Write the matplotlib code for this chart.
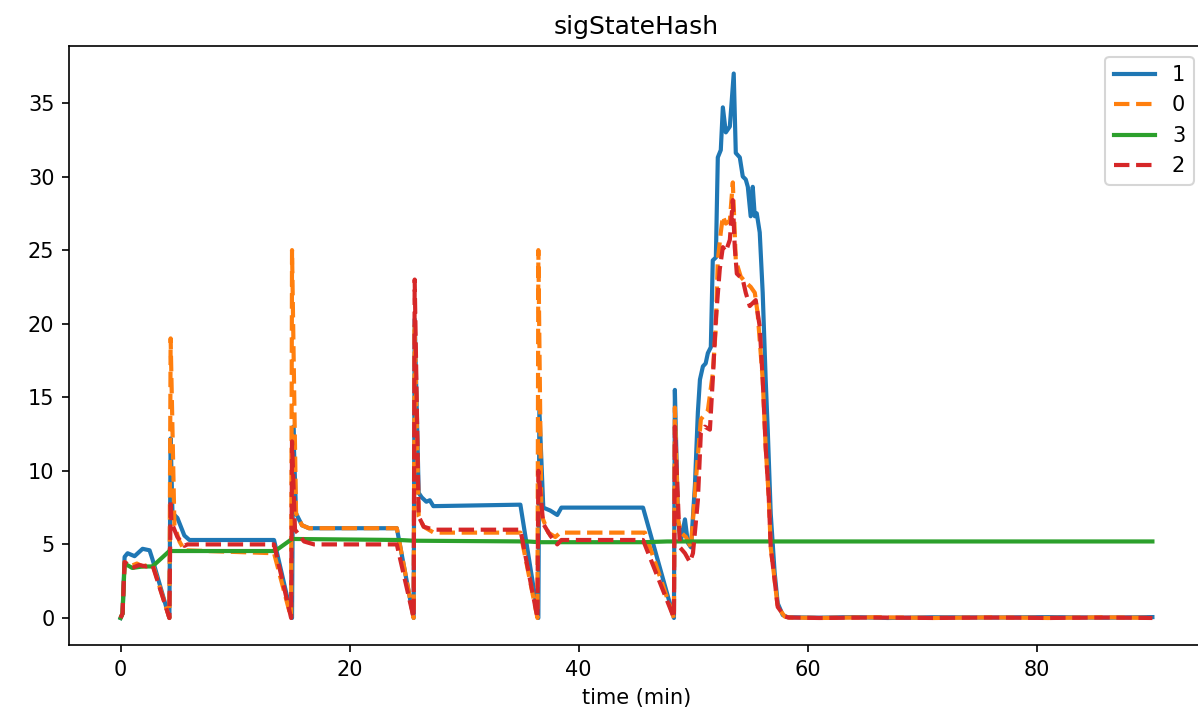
import matplotlib
matplotlib.use("Agg")
import matplotlib.pyplot as plt

# ---- data (time in minutes, values) ----
t_1 = [0, 0.17, 0.35, 0.61, 1.22, 1.92, 2.53, 2.78, 4.26, 4.37, 4.53, 4.70, 4.96, 5.57, 6.01,
       13.40, 14.97, 15.08, 15.32, 15.84, 16.45, 24.12, 25.59, 25.68, 26.03, 26.29, 26.70, 27.00,
       27.31, 34.91, 36.48, 36.57, 36.91, 37.52, 38.13, 38.49, 45.62, 48.32, 48.40, 48.67, 48.93,
       49.28, 49.54, 49.81, 50.15, 50.41, 50.59, 50.85, 51.09, 51.28, 51.54, 51.71, 51.98, 52.15,
       52.41, 52.59, 52.85, 53.20, 53.54, 53.72, 54.07, 54.33, 54.59, 54.77, 55.02, 55.20, 55.38,
       55.55, 55.81, 56.07, 56.33, 56.51, 56.77, 57.11, 57.38, 57.82, 58.25, 61, 64, 67, 71, 76,
       81, 86, 90.1]
v_1 = [0, 0.3, 4.15, 4.4, 4.2, 4.7, 4.6, 4.0, 0, 12.2, 7.1, 7.0, 6.8, 5.6, 5.3,
       5.3, 0, 13.0, 7.1, 6.3, 6.1, 6.1, 0, 20.3, 8.5, 8.2, 7.9, 8.0,
       7.6, 7.7, 0, 14.1, 7.5, 7.3, 7.0, 7.5, 7.5, 0, 15.5, 6.7, 5.3,
       6.7, 5.1, 4.8, 9.0, 14.0, 16.2, 17.1, 17.3, 18.0, 18.4, 24.3, 24.5, 31.3,
       31.8, 34.7, 33.0, 33.4, 37.0, 31.6, 31.3, 30.0, 29.8, 29.3, 27.3, 29.3, 27.3,
       27.5, 26.2, 22.1, 16.2, 12.8, 7.1, 3.1, 1.0, 0.2, 0.05, 0.02, 0.06, 0.0, 0.05, 0.03,
       0.06, 0.02, 0.06]

t_0 = [0, 0.17, 0.35, 0.81, 1.42, 1.93, 2.78, 4.26, 4.37, 4.70, 5.14, 5.57, 13.40, 14.89, 14.97,
       15.32, 15.84, 16.45, 24.12, 25.59, 25.68, 26.03, 26.47, 27.34, 34.91, 36.40, 36.48, 36.74,
       37.35, 37.96, 38.40, 45.79, 48.32, 48.40, 48.67, 48.93, 49.37, 49.81, 50.24, 50.67, 51.28,
       51.71, 51.98, 52.15, 52.41, 52.59, 52.85, 53.20, 53.46, 53.72, 54.15, 54.59, 55.02, 55.38,
       55.63, 56.07, 56.33, 56.60, 56.77, 57.11, 57.38, 57.99, 58.37, 61, 66, 71, 76, 81, 86, 90.1]
v_0 = [0, 0.3, 3.8, 3.5, 3.7, 3.5, 3.7, 0, 19.0, 6.3, 5.2, 4.6, 4.4, 0, 25.0,
       7.1, 6.3, 6.1, 6.1, 0, 20.0, 6.9, 6.2, 5.8, 5.8, 0, 25.0, 7.0,
       5.8, 5.5, 5.8, 5.8, 0, 14.3, 6.7, 5.8, 5.5, 4.8, 9.4, 13.5, 14.1,
       16.6, 19.8, 24.3, 26.2, 27.3, 26.8, 27.0, 29.6, 24.3, 23.2, 22.8, 22.5, 22.1,
       20.7, 16.2, 11.6, 8.2, 4.8, 2.6, 0.75, 0.1, 0.03, 0.0, 0.05, 0.0, 0.04, 0.0, 0.05, 0.0]

t_3 = [0, 0.17, 0.35, 1.02, 1.93, 2.78, 4.26, 13.49, 14.97, 24.36, 25.58, 35.53, 36.55, 45.68,
       47.71, 90.1]
v_3 = [0, 0.3, 3.7, 3.4, 3.5, 3.5, 4.55, 4.55, 5.37, 5.3, 5.25, 5.2, 5.15, 5.15, 5.2, 5.2]

t_2 = [0, 0.17, 0.35, 1.02, 1.62, 2.23, 2.78, 4.26, 4.37, 4.44, 4.96, 5.57, 5.84, 13.40, 14.89,
       14.97, 15.23, 16.02, 16.89, 24.12, 25.59, 25.68, 26.03, 26.47, 27.34, 34.91, 36.40, 36.48,
       36.91, 37.52, 38.13, 38.49, 45.62, 48.32, 48.40, 48.84, 49.28, 49.71, 49.98, 50.41, 50.67,
       51.02, 51.46, 51.71, 51.98, 52.32, 52.59, 52.85, 53.20, 53.46, 53.63, 53.81, 54.33, 54.59,
       54.94, 55.46, 55.81, 56.07, 56.33, 56.60, 56.77, 57.11, 57.38, 57.99, 58.37, 61, 66, 71,
       76, 81, 86, 90.1]
v_2 = [0, 0.3, 3.8, 3.4, 3.6, 3.5, 3.6, 0, 8.0, 6.5, 5.5, 4.9, 5.0, 5.0, 0,
       12.0, 6.0, 5.2, 5.0, 5.0, 0, 23.0, 6.9, 6.2, 6.0, 6.0, 0, 10.0,
       6.4, 5.6, 5.0, 5.3, 5.3, 0, 13.0, 4.8, 4.4, 3.8, 4.4, 8.0, 12.6,
       13.0, 12.8, 16.2, 20.3, 23.7, 25.2, 24.9, 25.7, 28.4, 25.2, 23.4, 23.0, 22.1,
       21.2, 21.6, 19.8, 16.2, 11.6, 8.2, 4.8, 2.6, 0.75, 0.1, 0.03, 0.0, 0.03, 0.0,
       0.03, 0.0, 0.03, 0.0]

labels = ["1", "0", "3", "2"]
x_ticks = [0, 20, 40, 60, 80]
y_ticks = [0, 5, 10, 15, 20, 25, 30, 35]

fig = plt.figure(figsize=(1198 / 150, 721 / 150), dpi=150)
ax = fig.add_axes([69 / 1198, (721 - 645.2) / 721, 1135 / 1198, (645.2 - 46.3) / 721])

ax.plot(t_1, v_1, color="tab:blue", ls="-", lw=2, label=labels[0])
ax.plot(t_0, v_0, color="tab:orange", ls="--", lw=2, label=labels[1])
ax.plot(t_3, v_3, color="tab:green", ls="-", lw=2, label=labels[2])
ax.plot(t_2, v_2, color="tab:red", ls="--", lw=2, label=labels[3])

ax.set_xticks(x_ticks)
ax.set_yticks(y_ticks)
ax.set_title("sigStateHash")
ax.set_xlabel("time (min)")
ax.legend(loc="upper right")

fig.savefig("out.png", dpi=150)
